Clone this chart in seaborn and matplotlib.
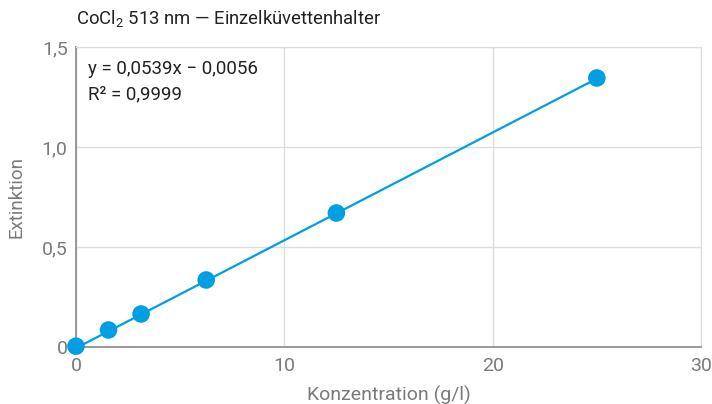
import seaborn as sns
import matplotlib.pyplot as plt
import numpy as np
import pandas as pd

# Daten
konzentration = [0, 1.5625, 3.125, 6.25, 12.5, 25]
extinktion = [0.004, 0.085, 0.165, 0.335, 0.67, 1.345]
steigung = 0.0539
achsenabschnitt = -0.0056
r2 = 0.9999

x_ticks = [0, 10, 20, 30]
x_tick_labels = ['0', '10', '20', '30']
y_ticks = [0, 0.5, 1.0, 1.5]
y_tick_labels = ['0', '0,5', '1,0', '1,5']

df = pd.DataFrame({'Konzentration': konzentration, 'Extinktion': extinktion})
fit = pd.DataFrame({'x': [0, 25]})
fit['y'] = steigung * fit['x'] + achsenabschnitt

sns.set_style('white')
plt.rcParams['font.family'] = ['Roboto', 'DejaVu Sans']
plt.rcParams['mathtext.fontset'] = 'custom'
plt.rcParams['mathtext.rm'] = 'Roboto'
plt.rcParams['mathtext.default'] = 'regular'

blau = '#009fe3'
grau = '#7a7a7a'

fig = plt.figure(figsize=(7.12, 4.04), dpi=100)
ax = fig.add_axes([0.1067, 0.1411, 0.8779, 0.7426])

sns.lineplot(data=fit, x='x', y='y', color=blau, linewidth=1.6, ax=ax, zorder=3)
sns.scatterplot(data=df, x='Konzentration', y='Extinktion', color=blau, s=160,
                edgecolor='none', ax=ax, zorder=4, clip_on=False)

ax.set_xlim(0, 30)
ax.set_ylim(0, 1.5)
ax.set_xticks(x_ticks)
ax.set_xticklabels(x_tick_labels)
ax.set_yticks(y_ticks)
ax.set_yticklabels(y_tick_labels)
ax.tick_params(axis='x', length=0, labelsize=14, labelcolor=grau, pad=7)
ax.tick_params(axis='y', length=0, labelsize=14, labelcolor=grau, pad=6)
ax.grid(True, color='#dddddd', linewidth=1)
ax.set_axisbelow(True)

for s in ['top', 'right']:
    ax.spines[s].set_color('#dddddd')
for s in ['left', 'bottom']:
    ax.spines[s].set_color('#888888')
    ax.spines[s].set_linewidth(1.2)

ax.set_xlabel('Konzentration (g/l)', fontsize=14, color=grau, labelpad=8)
ax.set_ylabel('Extinktion', fontsize=13.5, color=grau, labelpad=12)

ax.text(0.019, 0.955, 'y = 0,0539x − 0,0056\nR² = 0,9999', transform=ax.transAxes,
        fontsize=13.5, color='#222222', va='top', ha='left', linespacing=1.5)

fig.text(0.1067, 0.955, 'CoCl$_{2}$ 513 nm — Einzelküvettenhalter', fontsize=13.3,
         color='#222222', ha='left', va='center')

fig.savefig('out.png', dpi=100)
